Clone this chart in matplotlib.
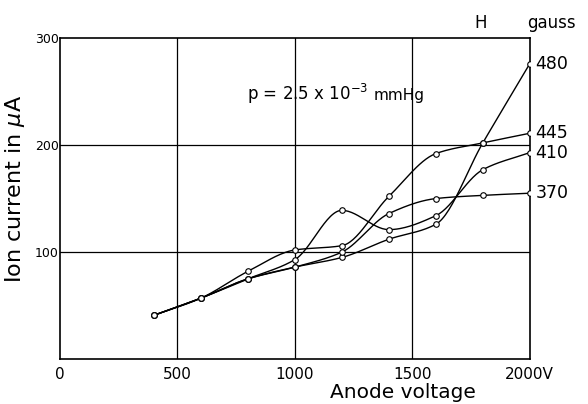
import numpy as np
import matplotlib
matplotlib.use('Agg')
from matplotlib import pyplot as plt

# anode voltage (V) at which the ion current was measured
voltage = [400, 600, 800, 1000, 1200, 1400, 1600, 1800, 2000]
# ion current (uA) for each magnetic field H (gauss)
current_480 = [41, 57, 75, 86, 95, 112, 126, 202, 276]
current_445 = [41, 57, 82, 102, 106, 152, 192, 202, 211]
current_410 = [41, 57, 75, 93, 139, 121, 134, 177, 193]
current_370 = [41, 57, 75, 86, 100, 136, 150, 153, 155]
field_labels = ['480', '445', '410', '370']

x_ticks = [0, 500, 1000, 1500, 2000]
x_tick_labels = ['0', '500', '1000', '1500', '2000V']
y_ticks = [100, 200, 300]


def smooth_curve(xs, ys, n=30):
	''' hand drawn look: monotone cubic (pchip) through the measured points '''
	pts = [(x, y) for x, y in zip(xs, ys) if y is not None]
	x = np.array([p[0] for p in pts], dtype=float)
	y = np.array([p[1] for p in pts], dtype=float)
	h = np.diff(x)
	d = np.diff(y) / h
	m = np.zeros_like(y)
	m[0] = d[0]
	m[-1] = d[-1]
	for k in range(1, len(x) - 1):
		if d[k - 1] * d[k] <= 0:
			m[k] = 0.0
		else:
			w1 = 2 * h[k] + h[k - 1]
			w2 = h[k] + 2 * h[k - 1]
			m[k] = (w1 + w2) / (w1 / d[k - 1] + w2 / d[k])
	xx, yy = [], []
	for i in range(len(x) - 1):
		t = np.linspace(0, 1, n)
		h00 = 2 * t ** 3 - 3 * t ** 2 + 1
		h10 = t ** 3 - 2 * t ** 2 + t
		h01 = -2 * t ** 3 + 3 * t ** 2
		h11 = t ** 3 - t ** 2
		xx.extend(x[i] + t * h[i])
		yy.extend(h00 * y[i] + h10 * h[i] * m[i] + h01 * y[i + 1] + h11 * h[i] * m[i + 1])
	return np.array(xx), np.array(yy), x, y


fig = plt.figure(figsize=(5.88, 4.04), dpi=100)
ax = fig.add_axes([0.102, 0.111, 0.799, 0.795])

# grid drawn as plain black lines like the printed figure
for gx in x_ticks[1:-1]:
	ax.axvline(gx, color='black', lw=0.9, zorder=1)
for gy in y_ticks[:-1]:
	ax.axhline(gy, color='black', lw=0.9, zorder=1)

series = [current_480, current_445, current_410, current_370]
for cur, lab in zip(series, field_labels):
	sx, sy, px, py = smooth_curve(voltage, cur)
	ax.plot(sx, sy, color='black', lw=1.0, zorder=2)
	ax.plot(px, py, 'o', ms=4, mfc='white', mec='black', mew=0.8, zorder=3)
	ax.text(2025, py[-1], lab, fontsize=12.5, va='center', ha='left')

ax.set_xlim(0, 2000)
ax.set_ylim(0, 300)
ax.set_xticks(x_ticks)
ax.set_xticklabels(x_tick_labels, fontsize=11)
ax.set_yticks(y_ticks)
ax.set_yticklabels([str(v) for v in y_ticks], fontsize=9)
ax.tick_params(axis='both', length=0)
ax.tick_params(axis='x', pad=6)
ax.tick_params(axis='y', pad=1)
for sp in ax.spines.values():
	sp.set_linewidth(1.2)

ax.set_xlabel('Anode voltage', fontsize=14.5)
ax.xaxis.set_label_coords(0.73, -0.075)
ax.set_ylabel(r'Ion current in $\mu$A', fontsize=16)
ax.yaxis.set_label_coords(-0.07, 0.53)

# pressure annotation
ax.text(796, 242, r'p = 2.5 x 10$^{-3}$', fontsize=12, va='baseline', ha='left')
ax.text(1335, 242, 'mmHg', fontsize=11, va='baseline', ha='left')

# header over the field labels
ax.text(1790, 306, 'H', fontsize=12, ha='center', va='bottom')
ax.text(1990, 306, 'gauss', fontsize=12, ha='left', va='bottom')

fig.savefig('out.png', dpi=100)
